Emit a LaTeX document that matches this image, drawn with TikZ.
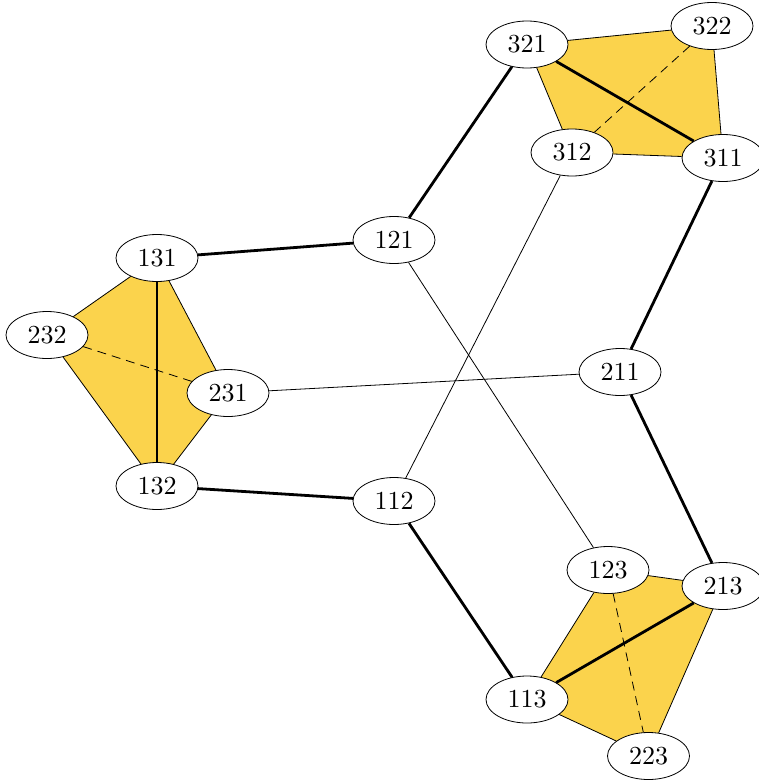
\documentclass[tikz,border=0pt]{standalone}
\usepackage{graphicx}
\usetikzlibrary{shapes.geometric}
\definecolor{tetra}{RGB}{251,211,76}
\begin{document}
\begin{tikzpicture}[x=1pt,y=-1pt,
  vert/.style={ellipse,draw,fill=white,line width=0.8pt,minimum width=82pt,minimum height=47pt,inner sep=0pt},
  thin/.style={line width=0.8pt},
  thick/.style={line width=2.8pt},
  hidden/.style={line width=0.8pt,dash pattern=on 9pt off 6pt},
  face/.style={fill=tetra}]
\useasboundingbox (0,0) rectangle (758,784);
% positions
\coordinate (p321) at (527,44.5);
\coordinate (p322) at (712,26);
\coordinate (p312) at (572,152.5);
\coordinate (p311) at (723,158);
\coordinate (p121) at (394,240);
\coordinate (p131) at (157,258);
\coordinate (p232) at (47,335);
\coordinate (p231) at (228,393);
\coordinate (p211) at (620,372);
\coordinate (p132) at (157,486);
\coordinate (p112) at (394,501);
\coordinate (p123) at (608,570);
\coordinate (p213) at (723,586);
\coordinate (p113) at (527,699.5);
\coordinate (p223) at (648.5,756);
% faces
\fill[face] (p321) -- (p322) -- (p311) -- (p312) -- cycle;
\fill[face] (p131) -- (p231) -- (p132) -- (p232) -- cycle;
\fill[face] (p123) -- (p213) -- (p223) -- (p113) -- cycle;
% nodes
\foreach \n in {321,322,312,311,121,131,232,231,211,132,112,123,213,113,223}
  \node[vert] (n\n) at (p\n) {\scalebox{2.6}{\n}};
% tetrahedron edges
\draw[thin] (n321) -- (n322) (n322) -- (n311) (n311) -- (n312) (n312) -- (n321);
\draw[thick] (n321) -- (n311);
\draw[hidden] (n322) -- (n312);
\draw[thin] (n131) -- (n231) (n231) -- (n132) (n132) -- (n232) (n232) -- (n131);
\draw[thick] (n131) -- (n132);
\draw[hidden] (n232) -- (n231);
\draw[thin] (n123) -- (n213) (n213) -- (n223) (n223) -- (n113) (n113) -- (n123);
\draw[thick] (n113) -- (n213);
\draw[hidden] (n123) -- (n223);
% connectors
\draw[thick] (n321) -- (n121);
\draw[thick] (n121) -- (n131);
\draw[thick] (n132) -- (n112);
\draw[thick] (n112) -- (n113);
\draw[thick] (n311) -- (n211);
\draw[thick] (n211) -- (n213);
\draw[thin] (n121) -- (n123);
\draw[thin] (n112) -- (n312);
\draw[thin] (n231) -- (n211);
\end{tikzpicture}
\end{document}
